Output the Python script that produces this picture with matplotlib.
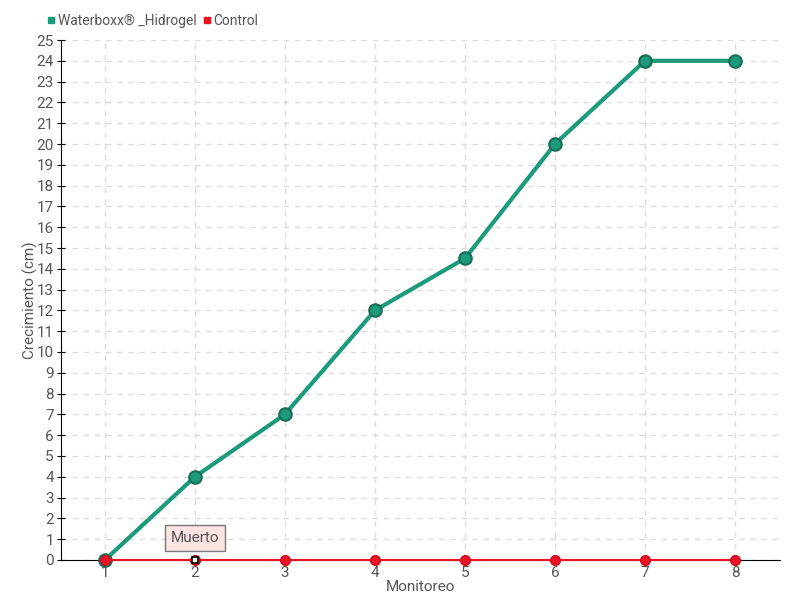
import matplotlib
matplotlib.use("Agg")
import matplotlib.pyplot as plt
from matplotlib.lines import Line2D

plt.rcParams["font.family"] = ["Roboto", "DejaVu Sans"]

monitoreo = [1, 2, 3, 4, 5, 6, 7, 8]
waterboxx = [0, 4, 7, 12, 14.5, 20, 24, 24]
control = [0, 0, 0, 0, 0, 0, 0, 0]
y_ticks = list(range(0, 26))
series_names = ["Waterboxx® _Hidrogel", "Control"]

green = "#1b9a7c"
green_dark = "#176d55"
red = "#ee1024"
text_col = "#555555"

fig = plt.figure(figsize=(8, 6), dpi=100)
ax = fig.add_axes([0.076, 0.0667, 0.899, 0.8666])

ax.plot(monitoreo, waterboxx, color=green, lw=3, marker="o", ms=9,
        mfc=green, mec=green_dark, mew=1.5, zorder=3, clip_on=False)
ax.plot(monitoreo, control, color=red, lw=1.5, marker="o", ms=7,
        mfc=red, mec="#cc0d1e", zorder=4, clip_on=False)
# dead marker
ax.plot([2], [0], marker="s", ms=5, mfc="white", mec="black", mew=1.2,
        zorder=6, clip_on=False)
ax.annotate("Muerto", xy=(2, 0), xytext=(2, 1.05), ha="center", va="center",
            fontsize=11, color=text_col,
            bbox=dict(boxstyle="square,pad=0.4", fc="#fde3e3", ec="#777777", lw=1),
            zorder=7)

ax.set_xlim(0.51, 8.5)
ax.set_ylim(0, 25)
ax.set_xticks(monitoreo)
ax.set_yticks(y_ticks)
ax.grid(True, color="#dddddd", ls=(0, (4, 4)), lw=1)
ax.set_axisbelow(True)
for s in ["top", "right"]:
    ax.spines[s].set_visible(False)
ax.spines["left"].set_color("black")
ax.spines["bottom"].set_color("black")
ax.tick_params(axis="y", direction="inout", length=6, labelsize=11, labelcolor=text_col, pad=2)
ax.tick_params(axis="x", direction="inout", length=6, color="#999999",
               labelsize=11, labelcolor=text_col, pad=1)
ax.set_xlabel("Monitoreo", fontsize=11, color=text_col, labelpad=0)
ax.set_ylabel("Crecimiento (cm)", fontsize=11, color=text_col, labelpad=-1)

handles = [Line2D([], [], ls="none", marker="s", ms=4.5, color=green),
           Line2D([], [], ls="none", marker="s", ms=4.5, color=red)]
leg = fig.legend(handles, series_names, loc="center left", bbox_to_anchor=(0.06, 0.965),
                 ncol=2, frameon=False, fontsize=10, handlelength=0.5, handletextpad=0.2,
                 columnspacing=0.5, borderpad=0, borderaxespad=0)
for t in leg.get_texts():
    t.set_color(text_col)

fig.savefig("out.png", dpi=100)
